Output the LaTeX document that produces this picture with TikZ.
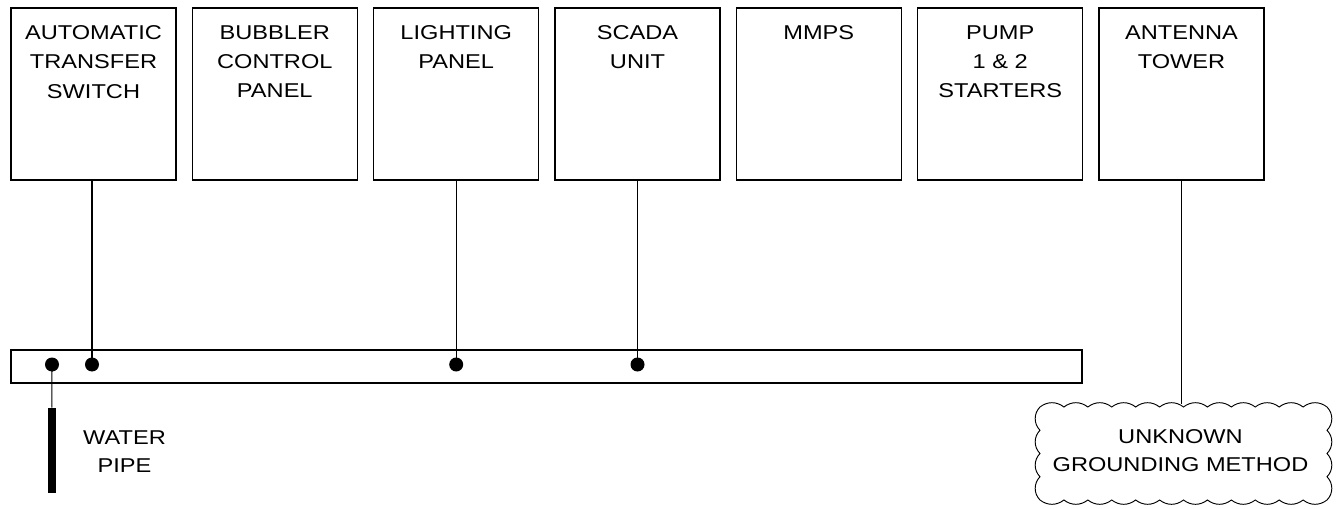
\documentclass[tikz,border=0pt]{standalone}
\usepackage{fontspec}
\newfontfamily\lbfont[FakeStretch=1.18]{Liberation Sans}
\begin{document}
\begin{tikzpicture}[x=0.75pt,y=0.75pt,
  ln/.style={line width=0.8pt,draw=black},
  boxn/.style={ln,rectangle,minimum width=123.75pt,minimum height=129pt,inner sep=0pt},
  lbl/.style={anchor=north,inner sep=0pt,align=center,font=\lbfont\fontsize{15}{22}\selectfont},
  lbl2/.style={anchor=north,inner sep=0pt,align=center,font=\lbfont\fontsize{15}{21}\selectfont},
  dot/.style={circle,fill=black,inner sep=0pt,minimum size=10.5pt},
]
\useasboundingbox (0,0) rectangle (1340,508);
% equipment boxes
\node[boxn] (ats)  at (93.5,414) {};
\node[boxn] (bub)  at (274.8,414) {};
\node[boxn] (lp)   at (456.2,414) {};
\node[boxn] (sc)   at (637.5,414) {};
\node[boxn] (mm)   at (818.8,414) {};
\node[boxn] (pump) at (1000.2,414) {};
\node[boxn] (ant)  at (1181.5,414) {};
\node[lbl] (tats)  at ([yshift=-13.3pt]ats.north)  {AUTOMATIC\\TRANSFER\\SWITCH};
\node[lbl] (tbub)  at ([yshift=-13.3pt]bub.north)  {BUBBLER\\CONTROL\\PANEL};
\node[lbl] (tlp)   at ([yshift=-13.3pt]lp.north)   {LIGHTING\\PANEL};
\node[lbl] (tsc)   at ([yshift=-13.3pt]sc.north)   {SCADA\\UNIT};
\node[lbl] (tmm)   at ([yshift=-13.3pt]mm.north)   {MMPS};
\node[lbl] (tpump) at ([yshift=-13.3pt]pump.north) {PUMP\\1 \& 2\\STARTERS};
\node[lbl] (tant)  at ([yshift=-13.3pt]ant.north)  {ANTENNA\\TOWER};
% ground bus
\node[ln,rectangle,minimum width=803.25pt,minimum height=24.75pt,inner sep=0pt] (bus) at (546.5,141.5) {};
\node[dot] (d1) at (52,143.5) {};
\node[dot] (d2) at (92,143.5) {};
\node[dot] (d3) at (456.2,143.5) {};
\node[dot] (d4) at (637.5,143.5) {};
\draw[ln] (d2.center) -- (d2.center |- ats.south);
\draw[ln] (d3.center) -- (lp.south);
\draw[ln] (d4.center) -- (sc.south);
% water pipe
\node[rectangle,fill=black,minimum width=6pt,minimum height=63.75pt,inner sep=0pt] (pipe) at (51.8,57.5) {};
\draw[ln] (d1.center) -- (pipe.north);
\node[lbl2] (tpipe) at (124.5,77.3) {WATER\\PIPE};
% cloud
\draw[ln,line width=0.7pt] (1040,101)
  foreach \i in {1,...,12}{ to[bend left=38] ++(23.917,0) }
  foreach \i in {1,...,4}{ to[bend left=45] ++(0,-23.25) }
  foreach \i in {1,...,12}{ to[bend left=38] ++(-23.917,0) }
  foreach \i in {1,...,4}{ to[bend left=45] ++(0,23.25) } -- cycle;
\coordinate (ctop) at (1181.5,104.5);
\node[lbl2] (tunk) at (1180.5,78.3) {UNKNOWN\\GROUNDING METHOD};
\draw[ln] (ant.south) -- (ctop);
\end{tikzpicture}
\end{document}
